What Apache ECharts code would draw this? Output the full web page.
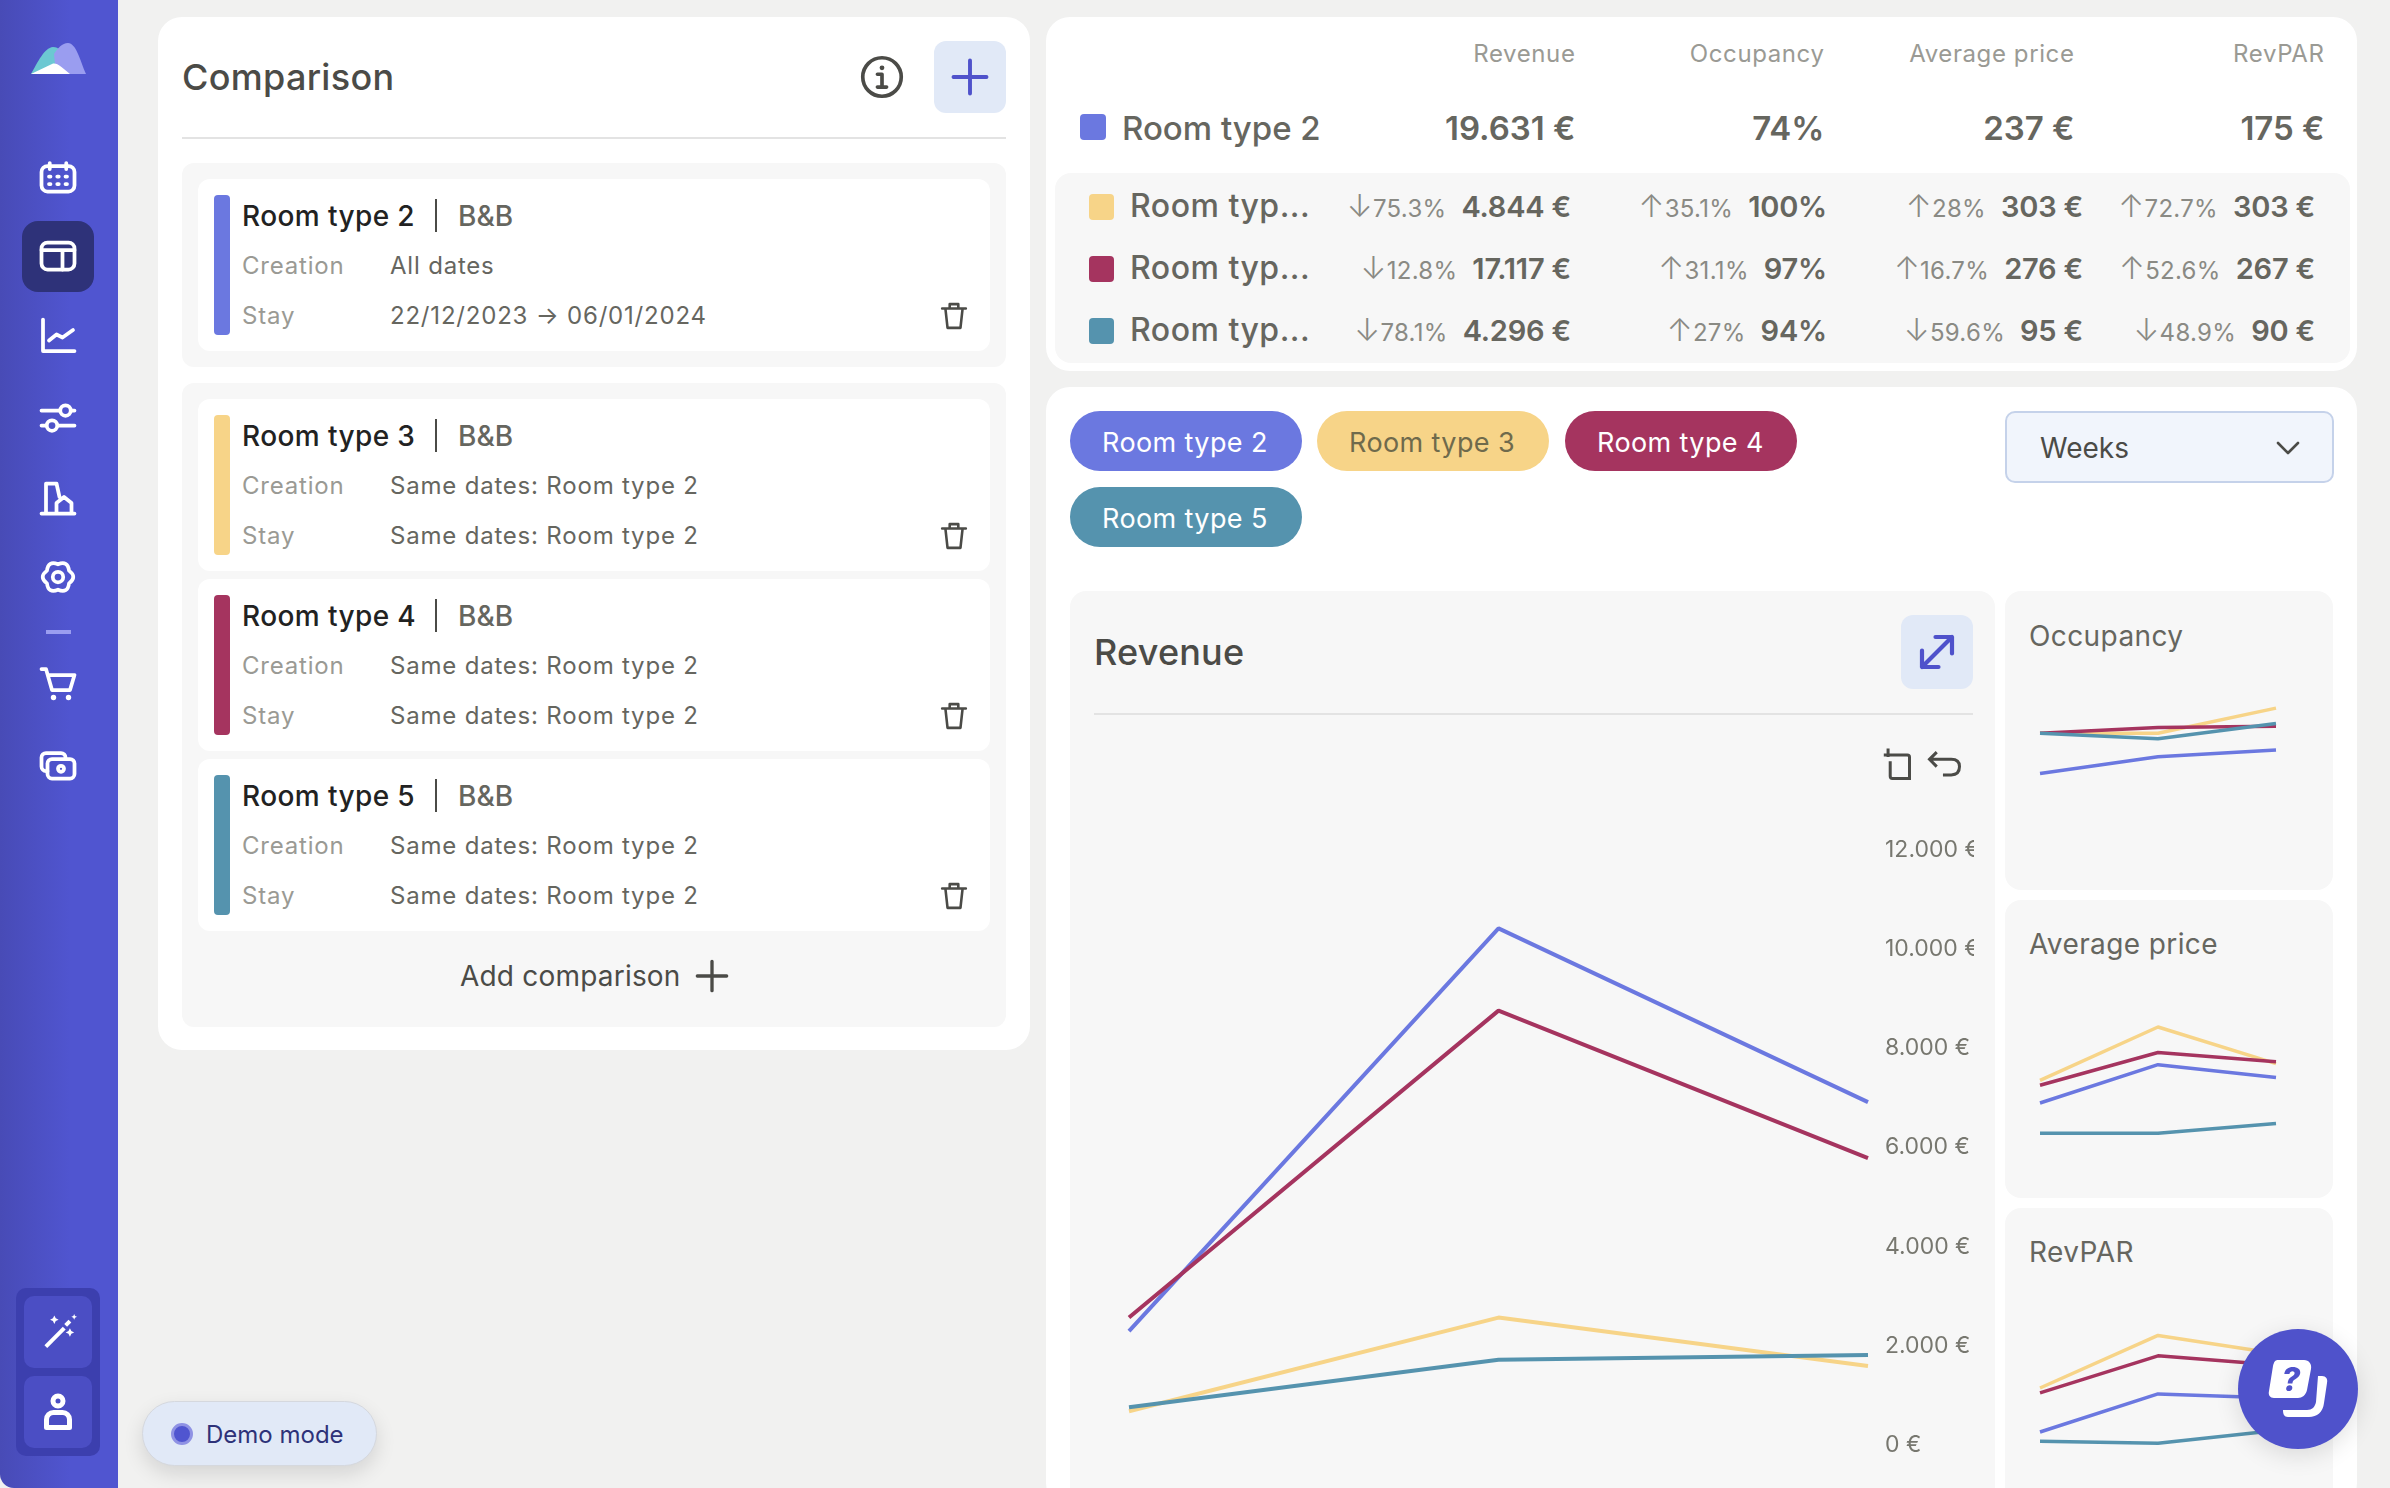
<!DOCTYPE html>
<html>
<head>
<meta charset="utf-8">
<title>Comparison</title>
<script src="https://cdn.jsdelivr.net/npm/echarts@6/dist/echarts.min.js"></script>
<style>
  html, body { margin: 0; padding: 0; width: 2390px; height: 1488px; overflow: hidden; background: #f1f1f0; font-family: Inter, "Noto Sans", sans-serif; color: #4b4b47; }
  .box { position: absolute; box-sizing: border-box; }
  .t { position: absolute; white-space: nowrap; transform: translateY(-50%); line-height: 1; }
  svg { position: absolute; overflow: visible; }
  .white { fill: none; stroke: #fff; stroke-width: 2.500; stroke-linecap: round; stroke-linejoin: round; }
  .dark { fill: none; stroke: #4b4b47; stroke-width: 2; stroke-linecap: round; stroke-linejoin: round; }
  .blue { fill: none; stroke: #4f52cb; stroke-width: 2.600; stroke-linecap: round; stroke-linejoin: round; }
  .chart { position: absolute; }
</style>
</head>
<body>
<div id="page">
  <!-- sidebar -->
  <div class="box" style="left:0;top:0;width:118px;height:1488px;background:linear-gradient(90deg,#484bb6,#5055d0 60%);border-bottom-left-radius:14px"></div>
  <svg style="left:30px;top:42px" width="56" height="34" viewBox="0 0 56 34">
    <path d="M1 32C8 20 14 6 23 5C29 5 32 10 35 14L26 32Z" fill="#6cc8d2"/>
    <path d="M24 12C28 6 32 1 38 1C46 1 50 18 56 32H26Z" fill="#9a9df0"/>
    <path d="M1 32L22 22C27 20 31 25 40 32Z" fill="#fff"/>
  </svg>
  <div class="box" style="left:22px;top:221px;width:72px;height:71px;border-radius:16px;background:#2e3279"></div>
  <div class="box" style="left:46px;top:630px;width:25px;height:4px;background:#9a9df0"></div>
  <svg style="left:40px;top:160px" width="36" height="36" viewBox="0 0 24 24"><rect class="white" x="1" y="4" width="22" height="17" rx="4"/><path class="white" d="M6.500 2v4M17.500 2v4M6 11h1M11.500 11h1M17 11h1M6 16h1M11.500 16h1M17 16h1"/></svg>
  <svg style="left:40px;top:238px" width="36" height="36" viewBox="0 0 24 24"><rect class="white" x="1" y="3" width="22" height="18" rx="4"/><path class="white" d="M1 8h22M15 8v13"/></svg>
  <svg style="left:40px;top:318px" width="36" height="36" viewBox="0 0 24 24"><path class="white" d="M2 1v21h21M6 15l5-4 4 2 7-5"/></svg>
  <svg style="left:40px;top:400px" width="36" height="36" viewBox="0 0 24 24"><path class="white" d="M1 7h12M21 7h2M1 17h3M12 17h11"/><circle class="white" cx="17" cy="7" r="3.500"/><circle class="white" cx="8" cy="17" r="3.500"/></svg>
  <svg style="left:40px;top:479px" width="36" height="36" viewBox="0 0 24 24"><path class="white" d="M1 23h22M4 23V3h7l2 9M11 23v-7l5-4 5 4v7"/></svg>
  <svg style="left:40px;top:559px" width="36" height="36" viewBox="0 0 24 24"><path class="white" d="M19.360 16.250Q18.500 23.260 12 20.500Q5.500 23.260 4.640 16.250Q-1 12 4.640 7.750Q5.500 .74 12 3.500Q18.500 .74 19.360 7.750Q25 12 19.360 16.250Z"/><circle class="white" cx="12" cy="12" r="3.500"/></svg>
  <svg style="left:40px;top:666px" width="36" height="36" viewBox="0 0 24 24"><path class="white" d="M1 2h3l4 14h12l3-10H6"/><circle cx="9" cy="21" r="1.800" fill="#fff"/><circle cx="19" cy="21" r="1.800" fill="#fff"/></svg>
  <svg style="left:40px;top:747px" width="36" height="36" viewBox="0 0 24 24"><rect class="white" x="5" y="8" width="18" height="13" rx="3"/><path class="white" d="M5 16H4a3 3 0 0 1-3-3V7a3 3 0 0 1 3-3h10a3 3 0 0 1 3 3v1"/><circle class="white" cx="14" cy="14.500" r="2"/></svg>
  <div class="box" style="left:16px;top:1288px;width:84px;height:168px;border-radius:10px;background:#3c3fae"></div>
  <div class="box" style="left:24px;top:1296px;width:68px;height:72px;border-radius:10px;background:#4b4ec4"></div>
  <div class="box" style="left:24px;top:1376px;width:68px;height:72px;border-radius:10px;background:#4b4ec4"></div>
  <svg style="left:43px;top:1314px" width="34" height="34" viewBox="0 0 24 24"><path d="M1 22l13-13 2 2L3 24Z" fill="#fff"/><path d="M15 7l3-3 2 2-3 3Z" fill="#fff"/><path d="M8 1l1 2 2 1-2 1-1 2-1-2-2-1 2-1ZM19 10l1 2 2 1-2 1-1 2-1-2-2-1 2-1ZM22 0l.6 1.400L24 2l-1.400.6L22 4l-.6-1.400L20 2l1.400-.6Z" fill="#fff"/></svg>
  <svg style="left:44px;top:1394px" width="28" height="36" viewBox="0 0 28 36"><circle cx="14" cy="7" r="5" fill="none" stroke="#fff" stroke-width="5"/><path d="M2.500 33.500v-8a7 7 0 0 1 7-7h9a7 7 0 0 1 7 7v8Z" fill="none" stroke="#fff" stroke-width="5" stroke-linejoin="round"/></svg>

  <!-- demo pill -->
  <div class="box" style="left:142px;top:1401px;width:235px;height:65px;border-radius:33px;background:#e1e9f7;border:1px solid #d5d8de;box-shadow:0 8px 20px rgba(0,0,0,.12)"></div>
  <div class="box" style="left:171px;top:1423px;width:22px;height:22px;border-radius:50%;background:#5055d0;border:3px solid #8f92e4"></div>
  <div class="t" style="left:206px;top:1435px;font-size:24px;color:#2e3279">Demo mode</div>

  <!-- comparison panel -->
  <div class="box" style="left:158px;top:17px;width:872px;height:1033px;border-radius:24px;background:#fff"></div>
  <div class="t" style="left:182px;top:77px;font-size:36px;font-weight:500;letter-spacing:.3px">Comparison</div>
  <svg style="left:860px;top:55px" width="44" height="44" viewBox="0 0 24 24"><circle class="dark" cx="12" cy="12" r="10.500"/><path class="dark" d="M9.500 10.500H12v7M9.500 17.500h5"/><circle cx="12" cy="7" r="1.300" fill="#4b4b47"/></svg>
  <div class="box" style="left:934px;top:41px;width:72px;height:72px;border-radius:12px;background:#e1e9f7"></div>
  <svg style="left:952px;top:59px" width="36" height="36" viewBox="0 0 24 24"><path class="blue" d="M12 1v22M1 12h22"/></svg>
  <div class="box" style="left:182px;top:137px;width:824px;height:2px;background:#e3e3e3"></div>
  <div class="box" style="left:182px;top:163px;width:824px;height:204px;border-radius:12px;background:#f7f7f7"></div>
  <div class="box" style="left:182px;top:383px;width:824px;height:644px;border-radius:12px;background:#f7f7f7"></div>
  <div id="cards"></div>
  <div class="t" style="left:460px;top:976px;font-size:28px;letter-spacing:.2px">Add comparison</div>
  <svg style="left:696px;top:960px" width="32" height="32" viewBox="0 0 24 24"><path class="dark" style="stroke-width:2.500" d="M12 1v22M1 12h22"/></svg>

  <!-- summary table -->
  <div class="box" style="left:1046px;top:17px;width:1311px;height:354px;border-radius:24px;background:#fff"></div>
  <div class="box" style="left:1055px;top:173px;width:1295px;height:190px;border-radius:16px;background:#f7f7f7"></div>
  <div id="table"></div>

  <!-- charts panel -->
  <div class="box" style="left:1046px;top:387px;width:1311px;height:1120px;border-radius:24px;background:#fff"></div>
  <div id="pills"></div>
  <div class="box" style="left:2005px;top:411px;width:329px;height:72px;border-radius:10px;background:#f1f5fc;border:2px solid #c5d2ea"></div>
  <div class="t" style="left:2040px;top:448px;font-size:28px">Weeks</div>
  <svg style="left:2276px;top:436px" width="24" height="24" viewBox="0 0 24 24"><path class="dark" style="stroke-width:2.600" d="M2 7l10 10L22 7"/></svg>

  <div class="box" style="left:1070px;top:591px;width:925px;height:920px;border-radius:16px;background:#f7f7f7"></div>
  <div class="t" style="left:1094px;top:652px;font-size:36px;font-weight:500;letter-spacing:.2px">Revenue</div>
  <div class="box" style="left:1901px;top:615px;width:72px;height:74px;border-radius:12px;background:#e1e9f7"></div>
  <svg style="left:1919px;top:634px" width="36" height="36" viewBox="0 0 24 24"><path class="blue" style="stroke-width:2.800" d="M2 22L22 2M11 2h11v11M2 11v11h11"/></svg>
  <div class="box" style="left:1094px;top:713px;width:879px;height:2px;background:#e3e3e3"></div>
  <div id="revenueChart" class="chart" style="left:1092px;top:730px;width:882px;height:758px"></div>

  <div class="box" style="left:2005px;top:591px;width:328px;height:299px;border-radius:16px;background:#f7f7f7"></div>
  <div class="box" style="left:2005px;top:900px;width:328px;height:298px;border-radius:16px;background:#f7f7f7"></div>
  <div class="box" style="left:2005px;top:1208px;width:328px;height:300px;border-radius:16px;background:#f7f7f7"></div>
  <div class="t" style="left:2029px;top:636px;font-size:28px;color:#66665f;letter-spacing:.4px">Occupancy</div>
  <div class="t" style="left:2029px;top:944px;font-size:28px;color:#66665f;letter-spacing:.4px">Average price</div>
  <div class="t" style="left:2029px;top:1252px;font-size:28px;color:#66665f;letter-spacing:.4px">RevPAR</div>
  <div id="occupancyChart" class="chart" style="left:2005px;top:590px;width:328px;height:300px"></div>
  <div id="priceChart" class="chart" style="left:2005px;top:900px;width:328px;height:298px"></div>
  <div id="revparChart" class="chart" style="left:2005px;top:1208px;width:328px;height:280px"></div>

  <!-- help button -->
  <div class="box" style="left:2238px;top:1329px;width:120px;height:120px;border-radius:50%;background:#4f52cb;box-shadow:0 6px 24px rgba(0,0,0,.12)"></div>
  <svg style="left:2268px;top:1358px" width="60" height="62" viewBox="0 0 60 62">
    <path d="M10 2h26c5 0 8 4 7 9l-4 21c-1 5-5 8-9 8H6c-4 0-6-3-5-7L5 8c1-4 2-6 5-6Z" fill="#fff"/>
    <path d="M50 18h4c4 0 6 3 5 7l-3 20c-1 9-7 14-15 14H20c-4 0-5-3-5-7h24c5 0 8-3 9-8Z" fill="#fff"/>
    <text x="23" y="33" text-anchor="middle" font-family="Inter" font-size="32" font-weight="800" fill="#4f52cb" font-style="italic">?</text>
  </svg>
</div>

<script>
var weeks = ['22/12', '25/12', '01/01'];

var roomNames = ['Room type 2', 'Room type 3', 'Room type 4', 'Room type 5'];
var roomColors = ['#6b78e0', '#f7d488', '#a5345f', '#5593ae'];

// one array per room type, same order as roomNames
var revenue = [
    [2295, 10420, 6916],
    [680, 2570, 1594],
    [2570, 8760, 5787],
    [760, 1720, 1816]
];
var occupancy = [
    [65, 77, 82],
    [94, 94, 112],
    [94, 98, 99],
    [94, 90, 101]
];
var averagePrice = [
    [172, 282, 245],
    [237, 390, 285],
    [223, 317, 290],
    [85, 85, 113]
];
var revpar = [
    [108, 211, 200],
    [227, 369, 320],
    [214, 314, 289],
    [83, 78, 112]
];

var columnNames = ['Revenue', 'Occupancy', 'Average price', 'RevPAR'];
var mainValues = ['19.631 €', '74%', '237 €', '175 €'];
var compareValues = [
    ['4.844 €', '100%', '303 €', '303 €'],
    ['17.117 €', '97%', '276 €', '267 €'],
    ['4.296 €', '94%', '95 €', '90 €']
];
var compareDeltas = [
    ['↓75.3%', '↑35.1%', '↑28%', '↑72.7%'],
    ['↓12.8%', '↑31.1%', '↑16.7%', '↑52.6%'],
    ['↓78.1%', '↑27%', '↓59.6%', '↓48.9%']
];

var creationTexts = ['All dates', 'Same dates: Room type 2', 'Same dates: Room type 2', 'Same dates: Room type 2'];
var stayTexts = ['22/12/2023 → 06/01/2024', 'Same dates: Room type 2', 'Same dates: Room type 2', 'Same dates: Room type 2'];

function text(parent, str, x, y, css, right) {
    var el = document.createElement('div');
    el.className = 't';
    el.textContent = str;
    el.style.cssText = (right ? 'right:' + (2390 - x) : 'left:' + x) + 'px;top:' + y + 'px;' + css;
    parent.appendChild(el);
    return el;
}

function block(parent, x, y, w, h, css) {
    var el = document.createElement('div');
    el.className = 'box';
    el.style.cssText = 'left:' + x + 'px;top:' + y + 'px;width:' + w + 'px;height:' + h + 'px;' + css;
    parent.appendChild(el);
}

// left side cards
var cards = document.getElementById('cards');
var cardTops = [179, 399, 579, 759];
roomNames.forEach(function (name, i) {
    var top = cardTops[i];
    block(cards, 198, top, 792, 172, 'border-radius:12px;background:#fff');
    block(cards, 214, top + 16, 16, 140, 'border-radius:4px;background:' + roomColors[i]);
    text(cards, name, 242, top + 37, 'font-size:28px;font-weight:500;color:#222;letter-spacing:.4px');
    block(cards, 435, top + 20, 2, 33, 'background:#4b4b47');
    text(cards, 'B&B', 458, top + 37, 'font-size:28px;font-weight:500;color:#66665f');
    text(cards, 'Creation', 242, top + 87, 'font-size:24px;color:#9a9a94;letter-spacing:.8px');
    text(cards, creationTexts[i], 390, top + 87, 'font-size:24px;color:#66665f;letter-spacing:.8px');
    text(cards, 'Stay', 242, top + 137, 'font-size:24px;color:#9a9a94;letter-spacing:.8px');
    text(cards, stayTexts[i], 390, top + 137, 'font-size:24px;color:#66665f;letter-spacing:.8px');
    var ns = 'http://www.w3.org/2000/svg';
    var svg = document.createElementNS(ns, 'svg');
    svg.setAttribute('width', 26);
    svg.setAttribute('height', 28);
    svg.setAttribute('viewBox', '0 0 24 26');
    svg.style.left = '941px';
    svg.style.top = (top + 123) + 'px';
    svg.innerHTML = '<path class="dark" style="stroke-width:2.400" d="M1 6h22M4 6l2 18h12l2-18M8 6V2h8v4"/>';
    cards.appendChild(svg);
});

// summary table
var table = document.getElementById('table');
var headRight = [1575.5, 1824.5, 2074.5, 2324.5];
var rowRight = [1571, 1827, 2083, 2315];
var rowY = [206, 268, 330];
columnNames.forEach(function (c, i) {
    text(table, c, headRight[i], 54, 'font-size:24px;color:#9a9a94;letter-spacing:.6px', true);
    text(table, mainValues[i], headRight[i], 128, 'font-size:33px;font-weight:600;color:#66665f', true);
});
block(table, 1080, 114, 26, 26, 'border-radius:4px;background:' + roomColors[0]);
text(table, roomNames[0], 1122, 128, 'font-size:33px;font-weight:500;color:#66665f');
compareValues.forEach(function (row, r) {
    block(table, 1089, rowY[r] - 12, 25, 26, 'border-radius:4px;background:' + roomColors[r + 1]);
    text(table, 'Room typ...', 1130, rowY[r], 'font-size:32px;font-weight:500;color:#66665f;letter-spacing:.5px');
    row.forEach(function (v, i) {
        var el = text(table, v, rowRight[i], rowY[r], 'font-size:29px;font-weight:600;color:#66665f;letter-spacing:-.2px', true);
        var d = document.createElement('span');
        d.style.cssText = 'font-size:24px;font-weight:400;color:#8a8a84;margin-right:15px;letter-spacing:.3px';
        var arrow = document.createElement('span');
        arrow.textContent = compareDeltas[r][i].charAt(0);
        arrow.style.cssText = 'font-size:31px;font-weight:300;line-height:0';
        d.appendChild(arrow);
        d.appendChild(document.createTextNode(compareDeltas[r][i].slice(1)));
        el.insertBefore(d, el.firstChild);
    });
});

// room type pills
var pills = document.getElementById('pills');
var pillPos = [[1070, 411], [1317, 411], [1565, 411], [1070, 487]];
var pillText = ['#fff', '#6f6a4c', '#fff', '#fff'];
roomNames.forEach(function (name, i) {
    block(pills, pillPos[i][0], pillPos[i][1], 232, 60, 'border-radius:30px;background:' + roomColors[i]);
    text(pills, name, pillPos[i][0] + 32, pillPos[i][1] + 31, 'font-size:27px;letter-spacing:.4px;color:' + pillText[i]);
});

function lineSeries(rows, width) {
    return rows.map(function (values, i) {
        return {
            name: roomNames[i],
            type: 'line',
            data: values,
            showSymbol: false,
            silent: true,
            lineStyle: { width: width, color: roomColors[i] },
            itemStyle: { color: roomColors[i] }
        };
    });
}

function smallChart(id, rows, max, top, height) {
    var chart = echarts.init(document.getElementById(id));
    chart.setOption({
        animation: false,
        grid: { left: 35, width: 236, top: top, height: height, outerBoundsMode: 'none' },
        xAxis: { type: 'category', data: weeks, boundaryGap: false, show: false },
        yAxis: { type: 'value', min: 0, max: max, show: false },
        series: lineSeries(rows, 3.5)
    });
}

var revenueChart = echarts.init(document.getElementById('revenueChart'));
revenueChart.setOption({
    animation: false,
    toolbox: {
        right: -3,
        top: 1,
        itemSize: 30,
        itemGap: 15,
        iconStyle: { color: 'none', borderColor: '#4b4b47', borderWidth: 3 },
        feature: {
            dataZoom: {
                yAxisIndex: 'none',
                title: { zoom: '', back: '' },
                icon: {
                    zoom: 'path://M0,6H8M4,0V8M8,6H22Q24,6,24,8V28H8Q6,28,6,26V12',
                    back: 'path://M8,0L1,7L8,14M1,7H22Q30,7,30,14Q30,22,22,22H14'
                }
            }
        }
    },
    grid: { left: 37, width: 739, top: 120, height: 595, outerBoundsMode: 'none' },
    xAxis: {
        type: 'category',
        data: weeks,
        boundaryGap: false,
        axisLine: { show: false },
        axisTick: { show: false },
        axisLabel: { show: false }
    },
    yAxis: {
        type: 'value',
        position: 'right',
        min: 0,
        max: 12000,
        interval: 2000,
        axisLine: { show: false },
        axisTick: { show: false },
        splitLine: { show: false },
        axisLabel: {
            margin: 17,
            fontFamily: 'Inter',
            fontSize: 23,
            color: '#77776f',
            hideOverlap: false,
            formatter: function (v) {
                return String(v).replace(/\B(?=(\d{3})+$)/g, '.') + ' €';
            }
        }
    },
    series: lineSeries(revenue, 4)
});

smallChart('occupancyChart', occupancy, 120, 107, 167);
smallChart('priceChart', averagePrice, 400, 123.5, 139.5);
smallChart('revparChart', revpar, 400, 116, 148);
</script>
</body>
</html>
